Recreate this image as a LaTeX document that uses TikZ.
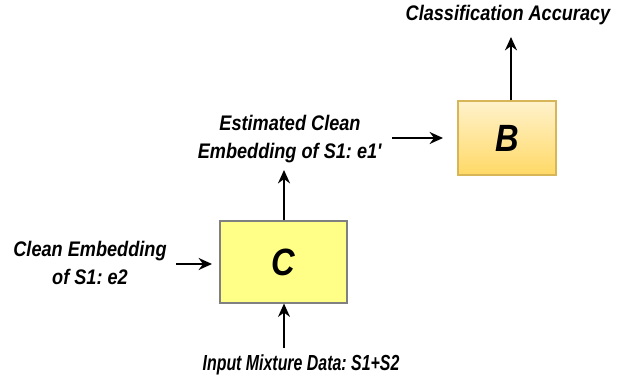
\documentclass[tikz,border=0pt]{standalone}
\usepackage{fontspec}
\setmainfont[FakeStretch=0.86]{Liberation Sans}
\newfontfamily\narrowfont[FakeStretch=0.73]{Liberation Sans}
\usetikzlibrary{arrows.meta}

\definecolor{boxyellow}{HTML}{FFFF88}
\definecolor{boxline}{HTML}{808080}
\definecolor{goldtop}{HTML}{FFF2CC}
\definecolor{goldbot}{HTML}{FFD966}
\definecolor{goldline}{HTML}{D6B656}

\begin{document}
\frenchspacing
\begin{tikzpicture}[x=0.025cm, y=-0.025cm]
\useasboundingbox (0,0) rectangle (630,385);

\tikzset{BlockStyle/.style = {
 draw, line width = 0.8pt,
 minimum width = 127*0.025cm,
 minimum height = 82*0.025cm,
 font = \fontsize{27}{30}\selectfont\bfseries\itshape} }
\tikzset{LabelStyle/.style = {
 align = center,
 inner sep = 0pt,
 font = \fontsize{15}{20}\selectfont\bfseries\itshape} }
\tikzset{ArrowStyle/.style = {line width = 1.5pt, -{Stealth[length=9.5pt, width=8.5pt]}} }

\node[BlockStyle, fill=boxyellow, draw=boxline] (C) at (283.5, 262) {C};
\node[BlockStyle, top color=goldtop, bottom color=goldbot, draw=goldline,
 minimum width=98*0.025cm, minimum height=74*0.025cm] (B) at (507, 138) {B};

\node[LabelStyle, font=\fontsize{15.5}{20}\narrowfont\bfseries\itshape] (Mix) at (301, 365) {Input Mixture Data: S1+S2};
\node[LabelStyle] (E2) at (90, 263) {Clean Embedding\\of S1: e2};
\node[LabelStyle] (E1) at (290, 139) {Estimated Clean\\Embedding of S1: e1\textquotesingle};
\node[LabelStyle] (Acc) at (508, 15) {Classification Accuracy};

\coordinate (MixTop) at (284, 348);
\coordinate (E2End) at (176, 264);
\coordinate (E2Tip) at (212, 264);
\coordinate (E1Tip) at (284, 170);
\coordinate (E1End) at (392, 138);
\coordinate (BTip) at (443, 138);
\coordinate (AccTip) at (511, 37);

\draw[ArrowStyle] (MixTop) -- (C.south -| MixTop);
\draw[ArrowStyle] (E2End) -- (E2Tip);
\draw[ArrowStyle] (C.north -| E1Tip) -- (E1Tip);
\draw[ArrowStyle] (E1End) -- (BTip);
\draw[ArrowStyle] (B.north -| AccTip) -- (AccTip);

\end{tikzpicture}
\end{document}
